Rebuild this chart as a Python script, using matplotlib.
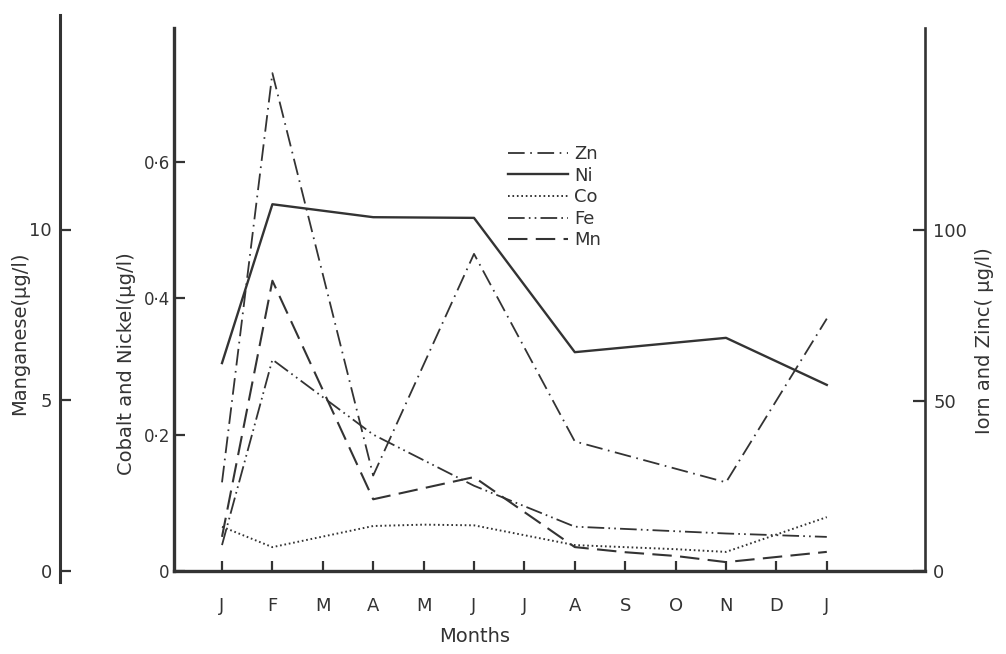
import numpy as np
import matplotlib.pyplot as plt
from matplotlib.lines import Line2D

plt.rcParams['font.family'] = ['DejaVu Sans']
plt.rcParams['lines.scale_dashes'] = False

W, H = 1006, 654
INK = '#333333'

months = ['J', 'F', 'M', 'A', 'M', 'J', 'J', 'A', 'S', 'O', 'N', 'D', 'J']

# iron and zinc, right axis (ug/l)
zn_x = [0, 1, 3, 5, 7, 10, 12]
zn = [26, 146, 28, 93, 38, 26, 74]
fe_x = [0, 1, 3, 5, 7, 10, 12]
fe = [7.6, 62, 40, 25, 13, 11, 10]

# cobalt and nickel, middle axis (ug/l)
ni_x = [0, 1, 3, 5, 7, 10, 12]
ni = [0.305, 0.538, 0.519, 0.518, 0.321, 0.342, 0.273]
co_x = [0, 1, 3, 4, 5, 7, 8, 9, 10, 12]
co = [0.065, 0.035, 0.066, 0.068, 0.067, 0.038, 0.035, 0.032, 0.028, 0.079]

# manganese, left axis (ug/l)
mn_x = [0, 1, 3, 5, 7, 8, 9, 10, 12]
mn = [1.0, 8.5, 2.1, 2.75, 0.70, 0.55, 0.44, 0.26, 0.56]

fig = plt.figure(figsize=(W / 100, H / 100), dpi=100)
ax = fig.add_axes([174 / W, 1 - 571 / H, 751 / W, 543 / H])
ax.set_xlim((174 - 222) / 50.4, (925 - 222) / 50.4)
ax.set_ylim(0, 543 / 681.7)
for s in ['top', 'right']:
    ax.spines[s].set_visible(False)
ax.spines['left'].set_linewidth(2.4)
ax.spines['bottom'].set_linewidth(2.4)
for s in ax.spines.values():
    s.set_color(INK)
ax.set_xticks(range(13), months)
ax.set_yticks([0, 0.2, 0.4, 0.6], ['0', '0·2', '0·4', '0·6'])
ax.tick_params(axis='x', direction='in', length=7, width=1.6, pad=19,
               labelsize=13, colors=INK)
ax.tick_params(axis='y', direction='in', length=8, width=1.6, pad=3,
               labelsize=12, colors=INK)

# right axis: iron and zinc
axr = ax.twinx()
axr.set_ylim(0, 543 / 3.41)
for s in ['top', 'left', 'bottom']:
    axr.spines[s].set_visible(False)
axr.spines['right'].set_linewidth(1.9)
axr.spines['right'].set_color(INK)
axr.set_yticks([0, 50, 100])
axr.tick_params(axis='y', direction='in', length=9, width=1.6, pad=6,
                labelsize=13, colors=INK)

# left axis: manganese
axm = ax.twinx()
axm.set_ylim(0, 543 / 34.15)
for s in ['top', 'right', 'bottom']:
    axm.spines[s].set_visible(False)
axm.spines['left'].set_visible(True)
axm.spines['left'].set_position(('axes', (60 - 174) / 751))
axm.spines['left'].set_bounds((571 - 582) / 34.15, (571 - 15) / 34.15)
axm.spines['left'].set_linewidth(2.2)
axm.spines['left'].set_color(INK)
axm.yaxis.set_ticks_position('left')
axm.set_yticks([0, 5, 10])
axm.tick_params(axis='y', direction='in', length=8, width=1.6, pad=6,
                labelsize=13, colors=INK)

zn_style = (0, (12, 4, 1.2, 4))
fe_style = (0, (12, 3, 1.2, 3, 1.2, 3))
co_style = (0, (1.2, 2.0))
mn_style = (0, (14, 6))

axr.plot(zn_x, zn, color=INK, lw=1.3, linestyle=zn_style)
axr.plot(fe_x, fe, color=INK, lw=1.3, linestyle=fe_style)
ax.plot(ni_x, ni, color=INK, lw=1.7, linestyle='-')
ax.plot(co_x, co, color=INK, lw=1.4, linestyle=co_style)
axm.plot(mn_x, mn, color=INK, lw=1.5, linestyle=mn_style)

handles = [
    Line2D([], [], color=INK, lw=1.3, linestyle=zn_style),
    Line2D([], [], color=INK, lw=1.7, linestyle='-'),
    Line2D([], [], color=INK, lw=1.4, linestyle=co_style),
    Line2D([], [], color=INK, lw=1.3, linestyle=fe_style),
    Line2D([], [], color=INK, lw=1.5, linestyle=mn_style),
]
leg = fig.legend(handles, ['Zn', 'Ni', 'Co', 'Fe', 'Mn'], loc='upper left',
                 bbox_to_anchor=(508 / W, 1 - 145 / H), frameon=False,
                 fontsize=13, handlelength=3.3, handletextpad=0.35,
                 labelspacing=0.2, borderpad=0, borderaxespad=0)
for t in leg.get_texts():
    t.set_color(INK)

fig.text(20 / W, 1 - 333 / H, 'Manganese(µg/l)', rotation=90, ha='center',
         va='center', fontsize=14, color=INK)
fig.text(127 / W, 1 - 364 / H, 'Cobalt and Nickel(µg/l)', rotation=90,
         ha='center', va='center', fontsize=14, color=INK)
fig.text(985 / W, 1 - 341 / H, 'Iorn and Zinc( µg/l)', rotation=90,
         ha='center', va='center', fontsize=14, color=INK)
fig.text(475 / W, 1 - 637 / H, 'Months', ha='center', va='center',
         fontsize=14, color=INK)

fig.savefig('out.png', dpi=100)
